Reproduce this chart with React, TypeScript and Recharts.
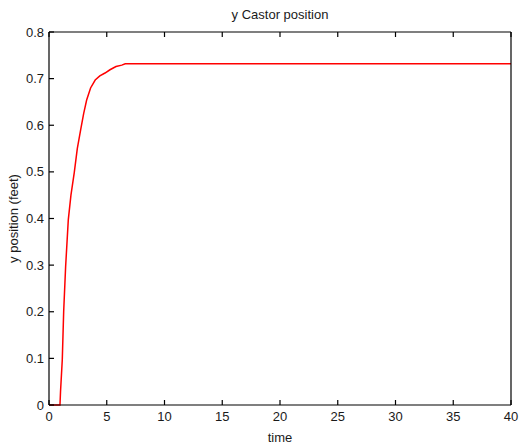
import React from "react"
import { LineChart, Line, XAxis, YAxis } from "recharts"

const timeValues = [0, 0.95, 1.0, 1.15, 1.27, 1.44, 1.67, 1.9, 2.19, 2.45, 2.74, 3.0, 3.26, 3.6, 4.0, 4.4, 4.85, 5.28, 5.8, 6.3, 6.6, 40]
const yPosition = [0, 0, 0.03, 0.097, 0.2, 0.297, 0.397, 0.45, 0.499, 0.55, 0.59, 0.625, 0.654, 0.68, 0.697, 0.706, 0.712, 0.719, 0.726, 0.729, 0.732, 0.732]
const xTicks = [0, 5, 10, 15, 20, 25, 30, 35, 40]
const yTicks = [0, 0.1, 0.2, 0.3, 0.4, 0.5, 0.6, 0.7, 0.8]

const data = timeValues.map((t, i) => ({ time: t, y: yPosition[i] }))

const font = "'Liberation Sans', Arial, sans-serif"
const tickStyle = { fontSize: 13, fill: "#1a1a1a", fontFamily: font }
const labelStyle = { fontSize: 13, fill: "#1a1a1a", fontFamily: font }
const axisLine = { stroke: "#000", strokeWidth: 1.2 }
const noLabel = () => <g />

export default function App() {
  return (
    <div style={{ position: "absolute", left: 0, top: 0, background: "#fff" }}>
      <LineChart width={519} height={447} data={data} margin={{ top: 31, right: 7, left: 0, bottom: 0 }}>
        <XAxis
          xAxisId="bottom"
          dataKey="time"
          type="number"
          domain={[0, 40]}
          ticks={xTicks}
          height={42}
          tickSize={-5}
          tickMargin={12}
          tick={tickStyle}
          axisLine={axisLine}
          tickLine={axisLine}
          label={{ value: "time", position: "insideBottom", offset: 5, style: labelStyle }}
        />
        <XAxis
          xAxisId="top"
          orientation="top"
          dataKey="time"
          type="number"
          domain={[0, 40]}
          ticks={xTicks}
          height={1}
          tickSize={-5}
          tick={noLabel}
          axisLine={axisLine}
          tickLine={axisLine}
          label={{ value: "y Castor position", position: "top", offset: 12, style: labelStyle }}
        />
        <YAxis
          yAxisId="left"
          type="number"
          domain={[0, 0.8]}
          ticks={yTicks}
          width={49}
          tickSize={-5}
          tickMargin={10}
          tick={tickStyle}
          tickFormatter={(v: number) => (v === 0 ? "0" : v.toFixed(1))}
          axisLine={axisLine}
          tickLine={axisLine}
          label={{ value: "y position (feet)", angle: -90, position: "insideLeft", offset: 13, textAnchor: "middle", style: { ...labelStyle, textAnchor: "middle" } }}
        />
        <YAxis
          yAxisId="right"
          orientation="right"
          type="number"
          domain={[0, 0.8]}
          ticks={yTicks}
          width={1}
          tickSize={-5}
          tick={noLabel}
          axisLine={axisLine}
          tickLine={axisLine}
        />
        <Line
          xAxisId="bottom"
          yAxisId="left"
          type="linear"
          dataKey="y"
          stroke="#ff0000"
          strokeWidth={1.5}
          dot={false}
          isAnimationActive={false}
        />
      </LineChart>
    </div>
  )
}
